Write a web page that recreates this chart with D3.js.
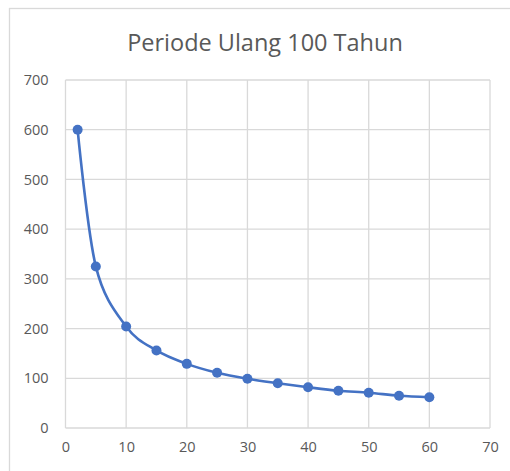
<!DOCTYPE html>
<html>
<head>
<meta charset="utf-8">
<script src="https://cdn.jsdelivr.net/npm/d3@7"></script>
<style>
  body { margin: 0; background: #fff; }
  svg { display: block; font-family: "Open Sans", sans-serif; }
  .axis text { fill: #595959; font-size: 14.5px; font-family: "Open Sans", sans-serif; }
  .grid line { stroke: #d9d9d9; stroke-width: 1.3; }
</style>
</head>
<body>
<div id="chart-area"><svg></svg></div>
<script>
const title = "Periode Ulang 100 Tahun";
const durations = [2, 5, 10, 15, 20, 25, 30, 35, 40, 45, 50, 55, 60];
const intensities = [600, 325, 204, 156, 129, 111, 99, 90, 82, 75, 71, 65, 62];
const xTicks = [0, 10, 20, 30, 40, 50, 60, 70];
const yTicks = [0, 100, 200, 300, 400, 500, 600, 700];

const chartSize = { width: 510, height: 471 };
const margin = { left: 65.5, right: 20, top: 80, bottom: 43 };
const width = chartSize.width - margin.left - margin.right;
const height = chartSize.height - margin.top - margin.bottom;

const svg = d3
  .select("#chart-area svg")
  .attr("width", chartSize.width)
  .attr("height", chartSize.height);

// outer chart frame (runs off the right and bottom edges)
svg.append("rect")
  .attr("x", 9.5)
  .attr("y", 8.5)
  .attr("width", 520)
  .attr("height", 480)
  .attr("fill", "none")
  .attr("stroke", "#d9d9d9")
  .attr("stroke-width", 1.3);

svg.append("text")
  .attr("x", 265)
  .attr("y", 51)
  .attr("text-anchor", "middle")
  .attr("fill", "#595959")
  .attr("font-size", 23.5)
  .text(title);

const g = svg.append("g")
  .attr("transform", `translate(${margin.left},${margin.top})`);

const x = d3.scaleLinear().domain([0, 70]).range([0, width]);
const y = d3.scaleLinear().domain([0, 700]).range([height, 0]);

g.append("g")
  .attr("class", "grid")
  .selectAll("line.v")
  .data(xTicks)
  .enter()
  .append("line")
  .attr("x1", d => x(d))
  .attr("x2", d => x(d))
  .attr("y1", 0)
  .attr("y2", height);

g.append("g")
  .attr("class", "grid")
  .selectAll("line.h")
  .data(yTicks)
  .enter()
  .append("line")
  .attr("x1", 0)
  .attr("x2", width)
  .attr("y1", d => y(d))
  .attr("y2", d => y(d));

const xAxis = d3.axisBottom(x).tickValues(xTicks).tickSize(0).tickPadding(14);
g.append("g")
  .attr("class", "x axis")
  .attr("transform", `translate(0,${height})`)
  .call(xAxis)
  .call(a => a.select(".domain").remove());

const yAxis = d3.axisLeft(y).tickValues(yTicks).tickSize(0).tickPadding(17);
g.append("g")
  .attr("class", "y axis")
  .call(yAxis)
  .call(a => a.select(".domain").remove());

const points = durations.map((d, i) => ({ t: d, v: intensities[i] }));

const line = d3
  .line()
  .x(p => x(p.t))
  .y(p => y(p.v))
  .curve(d3.curveCardinal.tension(0));

g.append("path")
  .attr("d", line(points))
  .attr("fill", "none")
  .attr("stroke", "#4472c4")
  .attr("stroke-width", 2.6);

g.selectAll("circle")
  .data(points)
  .enter()
  .append("circle")
  .attr("cx", p => x(p.t))
  .attr("cy", p => y(p.v))
  .attr("r", 5)
  .attr("fill", "#4472c4");
</script>
</body>
</html>
